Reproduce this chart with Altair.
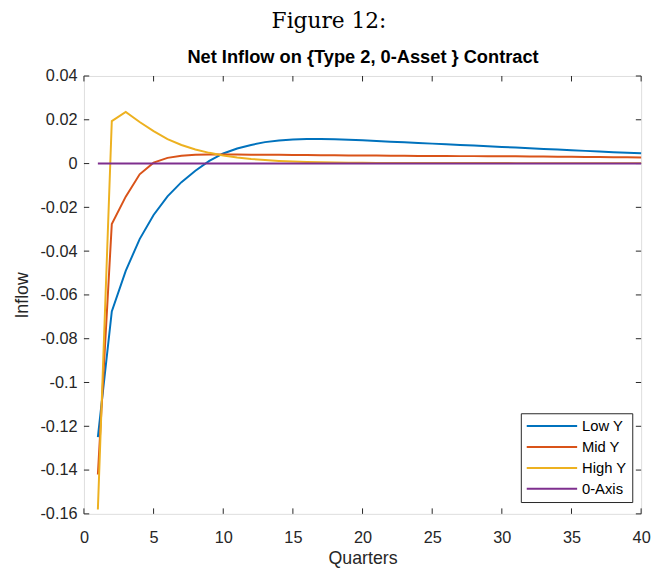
import altair as alt
import pandas as pd

quarters = list(range(1, 41))

low_y = [-0.125, -0.0675, -0.049, -0.0345, -0.0235, -0.015, -0.0085, -0.0033, 0.0012, 0.0046,
         0.0069, 0.0085, 0.0098, 0.0105, 0.0110, 0.0112, 0.0112, 0.0111, 0.0109, 0.0106,
         0.0103, 0.0100, 0.0097, 0.0094, 0.0091, 0.0088, 0.0085, 0.0082, 0.0079, 0.0076,
         0.0073, 0.0070, 0.0067, 0.0064, 0.0061, 0.0058, 0.0055, 0.0052, 0.0049, 0.0047]

mid_y = [-0.142, -0.0276, -0.0151, -0.0049, 0.0004, 0.0026, 0.0036, 0.0040, 0.0041, 0.0041,
         0.0041, 0.0040, 0.0040, 0.0040, 0.0039, 0.0039, 0.0038, 0.0038, 0.0037, 0.0037,
         0.0037, 0.0036, 0.0036, 0.0035, 0.0035, 0.0035, 0.0034, 0.0034, 0.0033, 0.0033,
         0.0033, 0.0032, 0.0032, 0.0031, 0.0031, 0.0030, 0.0030, 0.0029, 0.0029, 0.0028]

high_y = [-0.158, 0.0194, 0.0236, 0.0190, 0.0148, 0.0112, 0.0085, 0.0064, 0.0049, 0.0037,
          0.0028, 0.0021, 0.0016, 0.0012, 0.0009, 0.0007, 0.0006, 0.0005, 0.0004, 0.0004,
          0.0003, 0.0003, 0.0003, 0.0003, 0.0003, 0.0003, 0.0003, 0.0003, 0.0003, 0.0003,
          0.0002, 0.0002, 0.0002, 0.0002, 0.0002, 0.0002, 0.0002, 0.0002, 0.0002, 0.0002]

zero_axis = [0.0] * 40

series_names = ["Low Y", "Mid Y", "High Y", "0-Axis"]
series_colors = ["#0072BD", "#D95319", "#EDB120", "#7E2F8E"]

x_ticks = [0, 5, 10, 15, 20, 25, 30, 35, 40]
y_ticks = [-0.16, -0.14, -0.12, -0.1, -0.08, -0.06, -0.04, -0.02, 0, 0.02, 0.04]

x_min, x_max = 0, 40
y_min, y_max = -0.16, 0.04

AXIS_COLOR = "#262626"
FONT = "Liberation Sans"

rows = []
for name, vals in zip(series_names, [low_y, mid_y, high_y, zero_axis]):
    for q, v in zip(quarters, vals):
        rows.append({"Quarters": q, "Inflow": v, "Series": name})
df = pd.DataFrame(rows)

# inward tick marks (MATLAB style box)
dx = 0.38 * (x_max - x_min) / 40
dy = 0.0025 * (y_max - y_min) / 0.2
tick_rows = []
for v in x_ticks:
    tick_rows.append({"x": v, "x2": v, "y": y_min, "y2": y_min + dy})
    tick_rows.append({"x": v, "x2": v, "y": y_max, "y2": y_max - dy})
for v in y_ticks:
    tick_rows.append({"x": x_min, "x2": x_min + dx, "y": v, "y2": v})
    tick_rows.append({"x": x_max, "x2": x_max - dx, "y": v, "y2": v})
ticks_df = pd.DataFrame(tick_rows)

x_scale = alt.Scale(domain=[x_min, x_max], nice=False, zero=False)
y_scale = alt.Scale(domain=[y_min, y_max], nice=False, zero=False)

bottom_axis = alt.Axis(
    title="Quarters", values=x_ticks, grid=False, ticks=False, tickSize=0, domain=False,
    labelFontSize=16.5, labelFont=FONT, labelColor=AXIS_COLOR, labelPadding=16,
    labelFlush=False, labelOverlap=False,
    titleFontSize=18, titleFont=FONT, titleColor=AXIS_COLOR, titleFontWeight="normal",
    titlePadding=4,
)
left_axis = alt.Axis(
    title="Inflow", values=y_ticks, grid=False, ticks=False, tickSize=0, domain=False,
    labelFontSize=16.5, labelFont=FONT, labelColor=AXIS_COLOR, labelPadding=7,
    labelExpr="'' + (round(datum.value * 100) / 100)",
    labelFlush=False, labelOverlap=False,
    titleFontSize=18, titleFont=FONT, titleColor=AXIS_COLOR, titleFontWeight="normal",
    titlePadding=9,
)
top_axis = alt.Axis(
    orient="top", title="Net Inflow on {Type 2, 0-Asset } Contract",
    labels=False, ticks=False, domain=False, grid=False,
    titleFontSize=18.5, titleFont=FONT, titleFontWeight="bold", titleColor="black",
    titlePadding=10,
)

legend = alt.Legend(
    title=None, orient="none", legendX=443, legendY=342,
    symbolType="M-1,0H6.3", symbolSize=196, symbolStrokeWidth=2,
    symbolFillColor="transparent",
    labelFontSize=15, labelFont=FONT, labelColor="black", labelOffset=41,
    strokeColor=AXIS_COLOR, fillColor="white", padding=5, rowPadding=5.2,
    cornerRadius=0,
)

color = alt.Color("Series:N", scale=alt.Scale(domain=series_names, range=series_colors),
                  legend=legend)

layers = []
tick_layer = alt.Chart(ticks_df).mark_rule(color=AXIS_COLOR, strokeWidth=1).encode(
    x=alt.X("x:Q", scale=x_scale, axis=top_axis),
    x2="x2:Q",
    y=alt.Y("y:Q", scale=y_scale, axis=None),
    y2="y2:Q",
)
layers.append(tick_layer)

for i, name in enumerate(series_names):
    layer = alt.Chart(df).transform_filter(
        alt.datum.Series == name
    ).mark_line(strokeWidth=2).encode(
        x=alt.X("Quarters:Q", scale=x_scale, axis=bottom_axis if i == 0 else None),
        y=alt.Y("Inflow:Q", scale=y_scale, axis=left_axis if i == 0 else None),
        color=color,
    )
    layers.append(layer)

chart = alt.layer(*layers).resolve_axis(x="independent", y="independent").properties(
    width=565,
    height=444,
    padding={"left": 77, "top": 65, "right": 10, "bottom": 54},
    autosize=alt.AutoSizeParams(type="none"),
    title=alt.Title("Figure 12:", font="DejaVu Serif", fontSize=22, fontWeight="normal",
                    color="black", anchor="middle", dx=-34, offset=15),
).configure_view(stroke=AXIS_COLOR, strokeWidth=1).configure(background="white")

chart.save("out.html", embed_options={"renderer": "svg", "actions": False})
